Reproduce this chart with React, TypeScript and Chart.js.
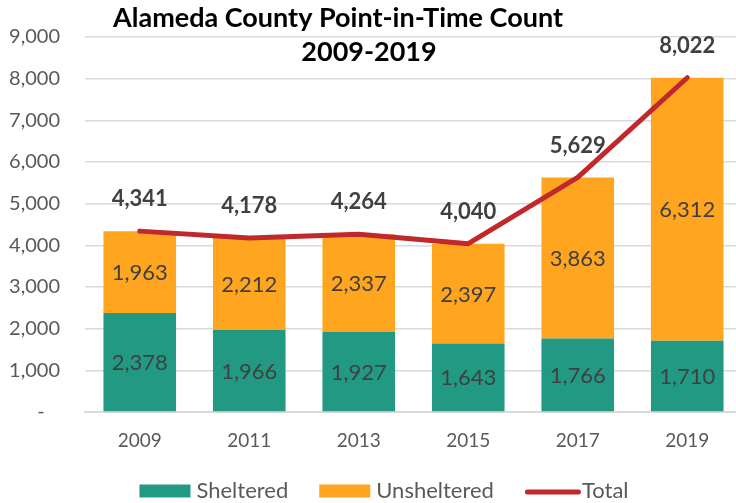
import React, { useEffect, useRef } from 'react';
import { Chart, registerables } from 'chart.js';
Chart.register(...registerables);

const years = ['2009', '2011', '2013', '2015', '2017', '2019'];
const sheltered = [2378, 1966, 1927, 1643, 1766, 1710];
const unsheltered = [1963, 2212, 2337, 2397, 3863, 6312];
const totals = [4341, 4178, 4264, 4040, 5629, 8022];
const titleLines = ['Alameda County Point-in-Time Count', '2009-2019'];
const seriesNames = ['Sheltered', 'Unsheltered', 'Total'];

const TEAL = '#229A83';
const ORANGE = '#FFA51F';
const RED = '#C0282C';
const FONT = 'Lato';

export default function App() {
  const ref = useRef<HTMLCanvasElement>(null);
  useEffect(() => {
    const canvas = ref.current!;
    const labelPlugin = {
      id: 'valueLabels',
      afterDatasetsDraw(chart: any) {
        const c = chart.ctx;
        c.save();
        c.textAlign = 'center';
        c.textBaseline = 'middle';
        c.fillStyle = '#404040';
        chart.data.datasets.forEach((ds: any, i: number) => {
          const meta = chart.getDatasetMeta(i);
          meta.data.forEach((el: any, j: number) => {
            const v = ds.data[j] as number;
            const txt = v.toLocaleString('en-US');
            if (ds.type === 'line') {
              c.font = `bold 22px ${FONT}`;
              c.fillText(txt, el.x, el.y - 32);
            } else {
              const p = el.getProps(['x', 'y', 'base'], true);
              c.font = `22px ${FONT}`;
              c.fillText(txt, p.x, (p.y + p.base) / 2 + 1);
            }
          });
        });
        c.restore();
      },
    };
    const decoPlugin = {
      id: 'deco',
      afterDraw(chart: any) {
        const c = chart.ctx;
        c.save();
        // title
        c.fillStyle = '#000000';
        c.textAlign = 'center';
        c.textBaseline = 'middle';
        c.font = `bold 27px ${FONT}`;
        c.fillText(titleLines[0], 338, 18);
        c.fillText(titleLines[1], 369, 52);
        // legend
        c.font = `22px ${FONT}`;
        const boxW = 51;
        const gap = 6;
        const spacing = 31;
        const colors = [TEAL, ORANGE, RED];
        const widths = seriesNames.map((n) => boxW + gap + c.measureText(n).width);
        const total = widths.reduce((a, b) => a + b, 0) + spacing * (widths.length - 1);
        let x = 384 - total / 2;
        const cy = 491;
        seriesNames.forEach((n, i) => {
          if (i < 2) {
            c.fillStyle = colors[i];
            c.fillRect(x, cy - 6.5, boxW, 13);
          } else {
            c.strokeStyle = colors[i];
            c.lineWidth = 5;
            c.lineCap = 'round';
            c.beginPath();
            c.moveTo(x + 2.5, cy + 1);
            c.lineTo(x + boxW + 2.5, cy + 1);
            c.stroke();
          }
          c.fillStyle = '#595959';
          c.textAlign = 'left';
          c.fillText(n, x + boxW + gap, cy);
          x += widths[i] + spacing;
        });
        c.restore();
      },
    };
    const chart = new Chart(canvas, {
      type: 'bar',
      data: {
        labels: years,
        datasets: [
          {
            type: 'line',
            label: seriesNames[2],
            data: totals,
            borderColor: RED,
            backgroundColor: RED,
            borderWidth: 5,
            pointRadius: 0,
            borderCapStyle: 'round',
            borderJoinStyle: 'round',
            stack: 'total',
            order: 0,
          } as any,
          {
            type: 'bar',
            label: seriesNames[0],
            data: sheltered,
            backgroundColor: TEAL,
            stack: 'pit',
            order: 1,
            barPercentage: 0.663,
            categoryPercentage: 1,
          },
          {
            type: 'bar',
            label: seriesNames[1],
            data: unsheltered,
            backgroundColor: ORANGE,
            stack: 'pit',
            order: 1,
            barPercentage: 0.663,
            categoryPercentage: 1,
          },
        ],
      },
      options: {
        responsive: false,
        animation: false,
        layout: { padding: { top: 36, right: 3, left: 0, bottom: 0 } },
        plugins: {
          legend: { display: false },
          title: { display: false },
          tooltip: { enabled: false },
        },
        scales: {
          x: {
            stacked: true,
            offset: true,
            grid: { display: false, drawTicks: false },
            border: { display: true, color: '#D9D9D9', width: 2 },
            ticks: { color: '#595959', font: { family: FONT, size: 19 }, padding: 17 },
            afterFit: (s: any) => {
              s.height = 91;
            },
          },
          y: {
            stacked: true,
            min: 0,
            max: 9000,
            ticks: {
              stepSize: 1000,
              color: '#595959',
              font: { family: FONT, size: 20 },
              padding: 25,
              callback: (v: any) => (Number(v) === 0 ? '-   ' : Number(v).toLocaleString('en-US')),
            },
            grid: { color: '#D9D9D9', lineWidth: 1.5, drawTicks: false },
            border: { display: false },
            afterFit: (s: any) => {
              s.width = 85;
            },
          },
        },
      },
      plugins: [labelPlugin, decoPlugin],
    });
    return () => chart.destroy();
  }, []);
  return (
    <div style={{ position: 'absolute', left: 0, top: 0, width: 736, height: 503, overflow: 'hidden', background: '#fff' }}>
      <canvas ref={ref} width={745} height={503} style={{ display: 'block' }} />
    </div>
  );
}
